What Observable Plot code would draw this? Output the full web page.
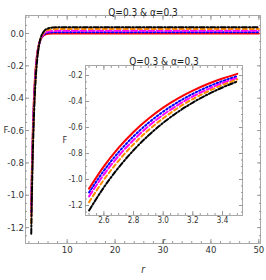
<!DOCTYPE html>
<html><head><meta charset="utf-8">
<script src="https://cdn.jsdelivr.net/npm/d3@7"></script>
<script src="https://cdn.jsdelivr.net/npm/@observablehq/plot@0.6"></script>
<style>
body{margin:0;background:#fff;}
#wrap{position:relative;width:266px;height:280px;overflow:hidden;background:#fff;}
#inset{position:absolute;left:55px;top:45px;}
svg{overflow:visible;}
</style></head><body><div id="wrap"><div id="main"></div><div id="inset"></div></div>
<script>
const title = "Q=0.3 & α=0.3";
const insetTitle = "Q=0.3 & α=0.3";
const xLabel = "r";
const yLabel = "F";
// radial coordinate samples
const r = [2.5, 2.6, 2.7, 2.8, 2.9, 3.0, 3.1, 3.2, 3.3, 3.4, 3.5, 3.75, 4, 4.5, 5, 5.5, 6, 7, 8, 10, 20, 30, 40, 50];
const fRed     = [-1.070,-0.899,-0.755,-0.634,-0.533,-0.447,-0.376,-0.316,-0.265,-0.223,-0.187,-0.121,-0.078,-0.033,-0.014,-0.006,-0.002,0,0,0,0,0,0,0];
const fBlue    = [-1.100,-0.932,-0.789,-0.668,-0.565,-0.478,-0.404,-0.341,-0.288,-0.243,-0.205,-0.133,-0.085,-0.033,-0.010,0.000,0.005,0.007,0.008,0.008,0.008,0.008,0.008,0.008];
const fMagenta = [-1.130,-0.962,-0.818,-0.696,-0.591,-0.502,-0.426,-0.361,-0.306,-0.258,-0.218,-0.141,-0.090,-0.032,-0.006,0.006,0.012,0.015,0.016,0.016,0.016,0.016,0.016,0.016];
const fOrange  = [-1.174,-1.002,-0.855,-0.729,-0.621,-0.529,-0.449,-0.381,-0.323,-0.273,-0.230,-0.148,-0.092,-0.028,0.002,0.015,0.022,0.026,0.027,0.027,0.027,0.027,0.027,0.027];
const fBlack   = [-1.238,-1.060,-0.907,-0.775,-0.662,-0.564,-0.480,-0.408,-0.346,-0.292,-0.246,-0.157,-0.096,-0.025,0.008,0.024,0.031,0.037,0.038,0.038,0.038,0.038,0.038,0.038];
const seriesNames = ["red","blue","magenta","orange","black"];
const seriesValues = [fRed, fBlue, fMagenta, fOrange, fBlack];
const seriesColors = ["#ff0000","#0000ff","#ff00ff","#ff8c00","#000000"];
const seriesDash = [null, "1.6,2.2", "6,2.5", "4,3", "5,2,1.6,2"];

const mainXTicks = [10,20,30,40,50];
const mainXTickLabels = ["10","20","30","40","50"];
const mainYTicks = [0,-0.2,-0.4,-0.6,-0.8,-1.0,-1.2];
const mainYTickLabels = ["0.0","-0.2","-0.4","-0.6","-0.8","-1.0","-1.2"];
const insetXTicks = [2.6,2.8,3.0,3.2,3.4];
const insetXTickLabels = ["2.6","2.8","3.0","3.2","3.4"];
const insetYTicks = [-0.2,-0.4,-0.6,-0.8,-1.0,-1.2];
const insetYTickLabels = ["-0.2","-0.4","-0.6","-0.8","-1.0","-1.2"];

const rows = seriesNames.flatMap((s, i) => r.map((rv, j) => ({r: rv, F: seriesValues[i][j], s})));

const font = "'Liberation Sans Narrow','Arial Narrow','DejaVu Sans Condensed',sans-serif";
const tickCol = "#9a9a9a";

function minors(a, b, step) {
  const out = [];
  for (let v = a; v <= b + 1e-9; v += step) out.push(Math.round(v * 1000) / 1000);
  return out;
}
function fmt(ticks, labels) {
  return d => labels[ticks.findIndex(t => Math.abs(t - d) < 1e-9)] ?? "";
}
function frameMarks(xT, xL, yT, yL, xM, yM, o) {
  return [
    Plot.frame({stroke: "#a8a8a8", fill: o.bg}),
    ...["bottom","top"].flatMap(a => [
      Plot.axisX(xT, {anchor: a, tickSize: -4, fill: "none", stroke: tickCol}),
      Plot.axisX(xM, {anchor: a, tickSize: -2, fill: "none", stroke: tickCol})
    ]),
    ...["left","right"].flatMap(a => [
      Plot.axisY(yT, {anchor: a, tickSize: -4, fill: "none", stroke: tickCol}),
      Plot.axisY(yM, {anchor: a, tickSize: -2, fill: "none", stroke: tickCol})
    ]),
    Plot.axisX(xT, {anchor: "bottom", tickSize: 0, tickPadding: o.xPad, tickFormat: fmt(xT, xL), fill: "#333", label: null, fontSize: o.fs}),
    Plot.axisY(yT, {anchor: "left", tickSize: 0, tickPadding: o.yPad, tickFormat: fmt(yT, yL), fill: "#333", label: null, fontSize: o.fs})
  ];
}
function lineMarks(data) {
  return seriesNames.map((s, i) => Plot.line(data.filter(d => d.s === s), {
    x: "r", y: "F", stroke: seriesColors[i], strokeWidth: 2,
    strokeDasharray: seriesDash[i], curve: "monotone-x", clip: true
  }));
}

const main = Plot.plot({
  width: 266, height: 280,
  marginLeft: 25, marginRight: 6, marginTop: 15, marginBottom: 37,
  style: {fontFamily: font, background: "transparent", color: "#333"},
  x: {domain: [1.3, 50.35], axis: null},
  y: {domain: [-1.298, 0.111], axis: null},
  marks: [
    ...frameMarks(mainXTicks, mainXTickLabels, mainYTicks, mainYTickLabels,
      minors(2, 50, 2), minors(-1.25, 0.1, 0.05), {xPad: 3, yPad: 1.5, fs: 9.5, bg: "none"}),
    ...lineMarks(rows),
    Plot.text([title], {frameAnchor: "top", dy: -7, fontSize: 10, fill: "#222"}),
    Plot.text([xLabel], {frameAnchor: "bottom", dy: 29, fontSize: 10, fontStyle: "italic", fill: "#333"}),
    Plot.text([yLabel], {frameAnchor: "left", dx: -22, fontSize: 9.5, fill: "#333"})
  ]
});
document.getElementById("main").append(main);

const inset = Plot.plot({
  width: 195, height: 205,
  marginLeft: 30, marginRight: 8, marginTop: 20, marginBottom: 35,
  style: {fontFamily: font, background: "transparent", color: "#333"},
  x: {domain: [2.476, 3.535], axis: null},
  y: {domain: [-1.277, -0.123], axis: null},
  marks: [
    ...frameMarks(insetXTicks, insetXTickLabels, insetYTicks, insetYTickLabels,
      minors(2.5, 3.5, 0.05), minors(-1.25, -0.15, 0.05), {xPad: 2, yPad: 3, fs: 8, bg: "white"}),
    ...lineMarks(rows.filter(d => d.r <= 3.5)),
    Plot.text([insetTitle], {frameAnchor: "top", dy: -7.5, fontSize: 10, fill: "#222"}),
    Plot.text([xLabel], {frameAnchor: "bottom", dy: 28, fontSize: 8, fontStyle: "italic", fill: "#333"}),
    Plot.text([yLabel], {frameAnchor: "left", dx: -23, fontSize: 9, fill: "#333"})
  ]
});
document.getElementById("inset").append(inset);
</script></body></html>
